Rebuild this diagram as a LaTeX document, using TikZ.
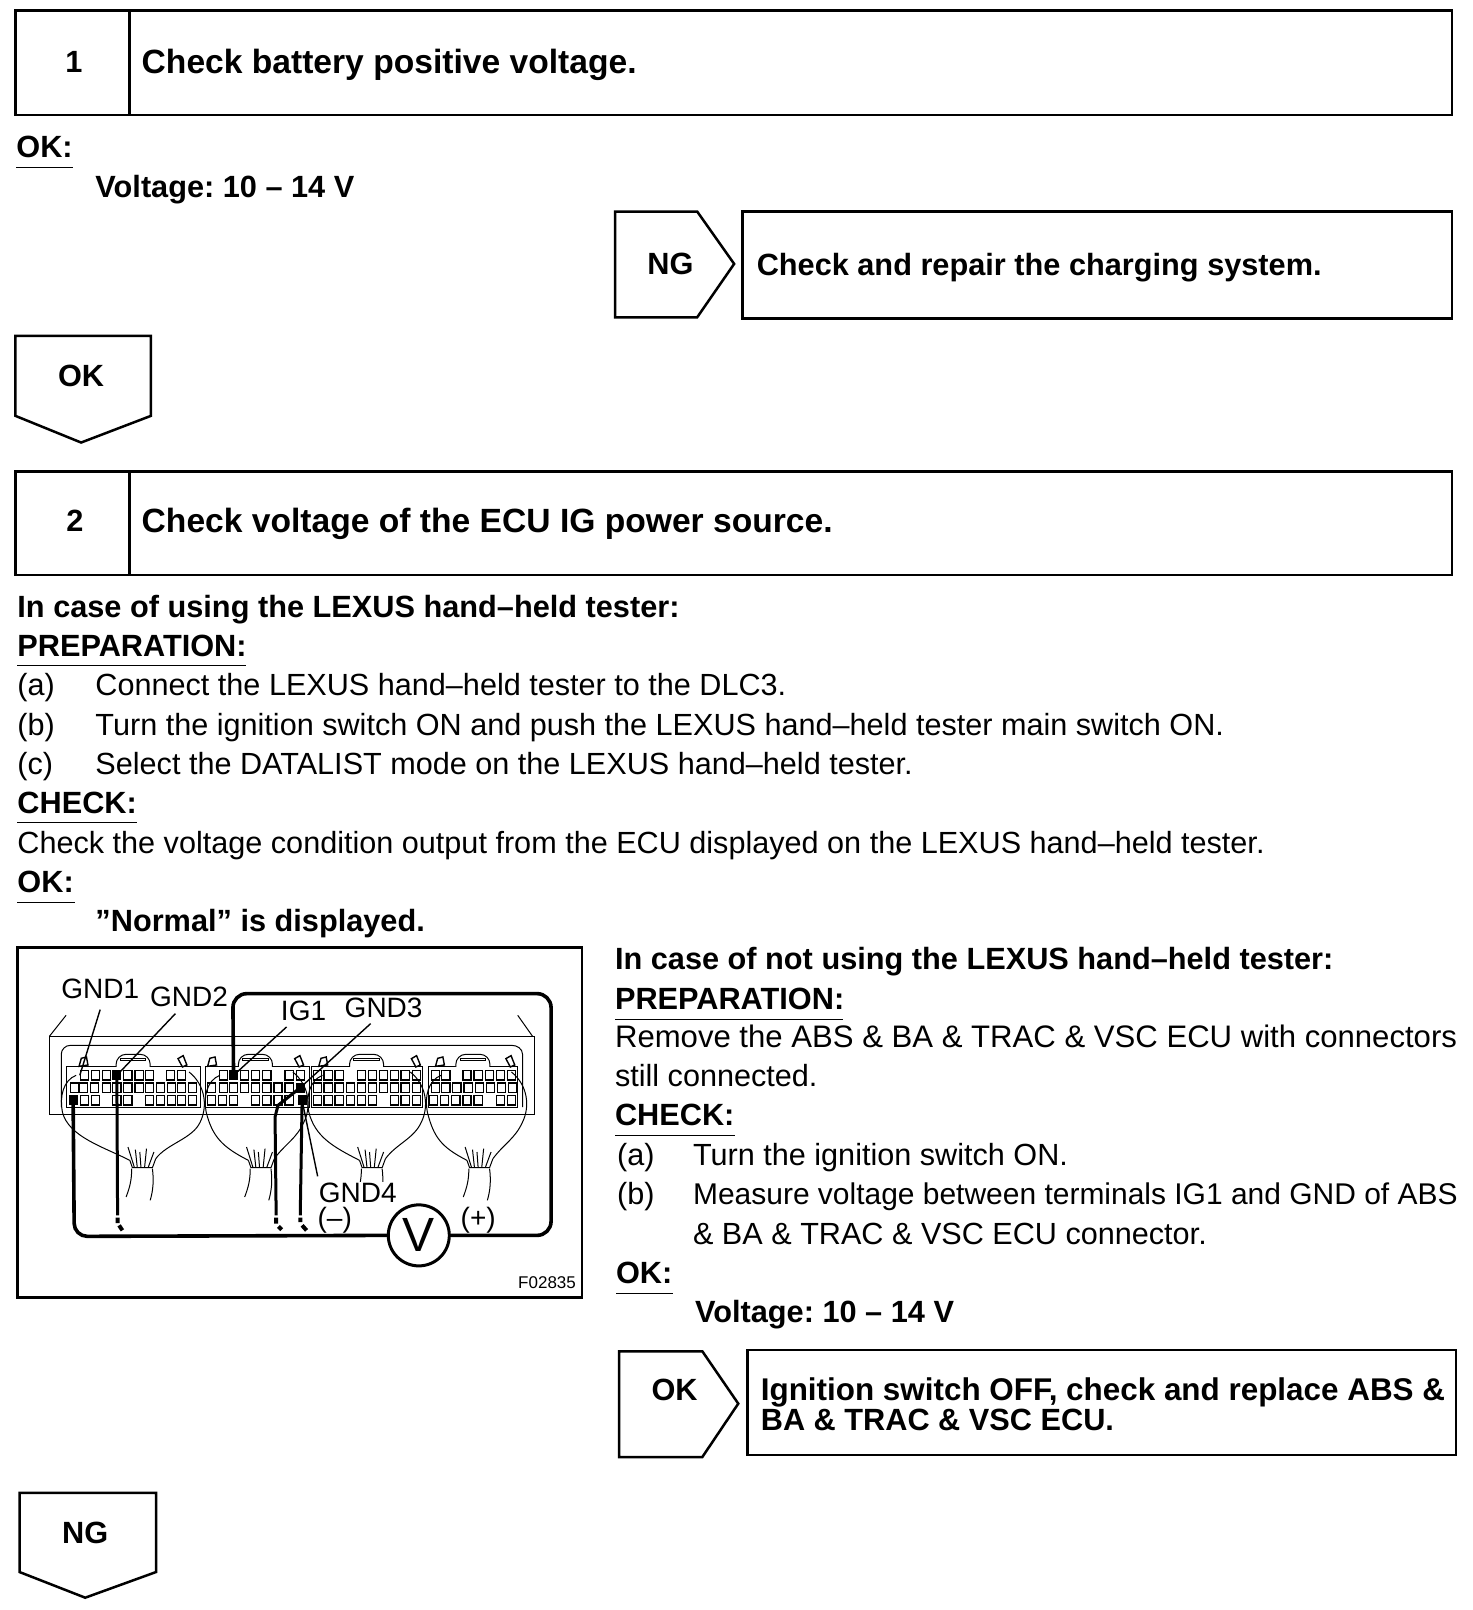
\documentclass[tikz,border=0pt]{standalone}
\usepackage{fontspec}
\setmainfont{Liberation Sans}
\tikzset{
 x=0.51325pt,y=-0.51325pt,
 box/.style={draw=black,line width=1.25pt,fill=white},
 rule/.style={draw=black,line width=0.6pt},
 bt/.style={anchor=base west,inner sep=0pt,outer sep=0pt,font=\fontsize{15.35}{17}\selectfont\bfseries\frenchspacing},
 tt/.style={anchor=base west,inner sep=0pt,outer sep=0pt,font=\fontsize{16.8}{19}\selectfont\bfseries\frenchspacing},
 nt/.style={anchor=base west,inner sep=0pt,outer sep=0pt,font=\fontsize{15.3}{17}\selectfont\frenchspacing},
 ct/.style={inner sep=0pt,outer sep=0pt,font=\fontsize{15.35}{17}\selectfont\bfseries},
 fl/.style={anchor=base west,inner sep=0pt,outer sep=0pt,font=\fontsize{14}{16}\selectfont},
 thin1/.style={draw=black,line width=0.5pt},
 lead/.style={draw=black,line width=0.7pt},
 wire/.style={draw=black,line width=1.8pt},
 probe/.style={draw=black,line width=1.5pt},
 pin/.style={draw=black,line width=0.6pt,fill=white},
}
\begin{document}
\begin{tikzpicture}
\useasboundingbox (0,0) rectangle (1434,1568);
\fill[white] (0,0) rectangle (1434,1568);
% step boxes
\draw[box] (15,10) rectangle (1414,112); \draw[box] (126,10) -- (126,112);
\node[ct] (n1) at (72,60) {1};
\node[tt] (t1) at (138,72) {Check battery positive voltage.};
\node[bt] (ok1) at (16,153) {OK:}; \draw[rule] (16,163) -- (71,163);
\node[bt] (v1) at (93,192) {Voltage: 10 -- 14 V};
\draw[box] (599,206) -- (679,206) -- (715,257) -- (679,309) -- (599,309) -- cycle;
\node[ct] (ng1) at (653,257) {NG};
\draw[box] (723,206) rectangle (1414,310);
\node[bt] (t2) at (737,268) {Check and repair the charging system.};
\draw[box] (15,327) -- (147,327) -- (147,405) -- (79,431) -- (15,405) -- cycle;
\node[ct] (ok2) at (79,366) {OK};
\draw[box] (15,459) rectangle (1414,560); \draw[box] (126,459) -- (126,560);
\node[ct] (n2) at (73,507) {2};
\node[tt] (t3) at (138,519) {Check voltage of the ECU IG power source.};
\node[bt] (a1) at (17,601) {In case of using the LEXUS hand--held tester:};
\node[bt] (a2) at (17,639) {PREPARATION:}; \draw[rule] (17,648) -- (240,648);
\node[nt] (a3l) at (17,677) {(a)}; \node[nt] (a3) at (93,677) {Connect the LEXUS hand--held tester to the DLC3.};
\node[nt] (a4l) at (17,716) {(b)}; \node[nt] (a4) at (93,716) {Turn the ignition switch ON and push the LEXUS hand--held tester main switch ON.};
\node[nt] (a5l) at (17,754) {(c)}; \node[nt] (a5) at (93,754) {Select the DATALIST mode on the LEXUS hand--held tester.};
\node[bt] (a6) at (17,792) {CHECK:}; \draw[rule] (17,801) -- (133,801);
\node[nt] (a7) at (17,831) {Check the voltage condition output from the ECU displayed on the LEXUS hand--held tester.};
\node[bt] (a8) at (17,869) {OK:}; \draw[rule] (17,879) -- (73,879);
\node[bt] (a9) at (93,907) {”Normal” is displayed.};
% right column
\node[bt] (b1) at (599,944) {In case of not using the LEXUS hand--held tester:};
\node[bt] (b2) at (599,983) {PREPARATION:}; \draw[rule] (599,993) -- (821,993);
\node[nt,font=\fontsize{15.55}{17}\selectfont\frenchspacing] (b3) at (599,1020) {Remove the ABS \& BA \& TRAC \& VSC ECU with connectors};
\node[nt] (b4) at (599,1058) {still connected.};
\node[bt] (b5) at (599,1096) {CHECK:}; \draw[rule] (599,1106) -- (716,1106);
\node[nt] (b6l) at (601,1135) {(a)}; \node[nt] (b6) at (675,1135) {Turn the ignition switch ON.};
\node[nt] (b7l) at (601,1173) {(b)}; \node[nt,font=\fontsize{14.98}{17}\selectfont\frenchspacing] (b7) at (675,1173) {Measure voltage between terminals IG1 and GND of ABS};
\node[nt] (b8) at (675,1212) {\& BA \& TRAC \& VSC ECU connector.};
\node[bt] (b9) at (600,1250) {OK:}; \draw[rule] (600,1260) -- (655,1260);
\node[bt] (b10) at (677,1288) {Voltage: 10 -- 14 V};
\draw[box] (603,1316) -- (684,1316) -- (719,1367) -- (684,1419) -- (603,1419) -- cycle;
\node[ct] (ok3) at (657,1354) {OK};
\draw[box] (728,1315) rectangle (1418,1417);
\node[bt,font=\fontsize{15.7}{17}\selectfont\bfseries\frenchspacing] (c1) at (741,1364) {Ignition switch OFF, check and replace ABS \&};
\node[bt] (c2) at (741,1393) {BA \& TRAC \& VSC ECU.};
\draw[box] (19,1454) -- (152,1454) -- (152,1531) -- (83,1556) -- (19,1531) -- cycle;
\node[ct] (ng2) at (83,1493) {NG};
% figure, in zoom-crop coordinates
\begin{scope}[shift={(9.16,906)},x=0.18519pt,y=-0.16667pt]
\draw[box] (22,52) rectangle (1545,1102);
% ECU body
\draw[thin1] (108,318) -- (153,255) (1412,318) -- (1372,255);
\draw[thin1,fill=white] (108,318) rectangle (1416,553);
\draw[thin1] (140,530) -- (140,372) to[out=90,in=180] (165,345) -- (1355,345) to[out=0,in=90] (1385,372) -- (1385,530);
% connector shells
\foreach \a/\b/\l/\ta/\tb in {155/515/288/198/465, 530/810/618/545/780, 815/1115/918/845/1095, 1130/1372/1205/1160/1350}{
  \draw[thin1,fill=white] (\a,410) -- (\a,532) -- (\b,532) -- (\b,410) -- cycle;
  \draw[thin1,fill=white,rounded corners=5pt] (\l,410) -- (\l,372) -- (\l+92,372) -- (\l+92,410);
  \draw[thin1] (\l+12,384) -- (\l+80,384) -- (\l+80,392) -- (\l+12,392) -- cycle;
  \draw[line width=0.7pt,fill=white] (\ta-10,408) -- (\ta-4,384) -- (\ta+10,380) -- (\ta+14,404) -- cycle;
  \draw[line width=0.7pt,fill=white] (\tb-10,385) -- (\tb+4,376) -- (\tb+14,404) -- (\tb+2,410) -- cycle;
}
% pins
\foreach \y/\xs in {
 435/{203,232,262,320,350,378,435,465,578,635,665,695,755,785,832,860,890,950,980,1010,1040,1068,1098,1150,1178,1235,1265,1295,1325,1355},
 472/{175,200,230,262,290,320,350,378,408,438,465,495,545,578,605,635,665,695,725,755,832,860,890,920,950,980,1010,1040,1068,1098,1150,1178,1208,1238,1268,1298,1328,1358},
 510/{202,232,290,320,378,408,438,465,495,545,575,605,665,695,725,755,832,860,890,920,950,980,1040,1068,1098,1145,1175,1205,1235,1265,1325,1355}}{
  \foreach \x in \xs { \draw[pin] (\x-11,\y-14) rectangle (\x+11,\y+14); }
}
\foreach \x/\y in {172/510,290/435,605/435,785/472,790/510}{ \fill[black] (\x-12,\y-15) rectangle (\x+12,\y+15); }
% harnesses
\foreach \L/\R/\B in {140/525/325, 528/805/645, 805/1122/945, 1125/1395/1235}{
  \draw[thin1] (\L+40,435) .. controls (\L+5,450) and (\L-5,500) .. (\L+3,545) .. controls (\L+20,620) and (\B-70,650) .. (\B,690);
  \draw[thin1] (\R-40,425) .. controls (\R+5,465) and (\R+10,530) .. (\R-10,575) .. controls (\R-30,625) and (\B+100,640) .. (\B+70,685);
  \draw[thin1] (\B,690) -- (\B+7,712) -- (\B+61,712) -- (\B+70,685);
  \draw[thin1] (\B+5,715) .. controls (\B+5,750) and (\B,770) .. (\B-10,800);
  \draw[thin1] (\B+61,715) .. controls (\B+65,750) and (\B+63,780) .. (\B+55,810);
  \draw[thin1] (\B+12,710) -- (\B-5,650) (\B+20,710) -- (\B+15,658) (\B+30,710) -- (\B+27,665) (\B+40,710) -- (\B+45,655) (\B+50,710) -- (\B+65,665);
}
% main circuit
\node[draw=black,line width=1.5pt,circle,minimum size=30.5pt,inner sep=0pt,fill=white,font=\fontsize{24}{26}\selectfont] (vm) at (1105,915) {V};
\coordinate (pinA) at (172,510);
\coordinate (pinB) at (605,435);
\draw[wire,rounded corners=6.5pt] (pinA) -- (175,918) -- (vm.west);
\draw[wire,rounded corners=7pt] (vm.east) -- (1462,915) -- (1462,190) -- (603,190) -- (pinB);
% probes
\coordinate (p1) at (290,435); \coordinate (p2) at (785,472); \coordinate (p3) at (790,510);
\draw[probe] (p1) -- (292,855); \draw[probe,line width=2pt] (292,862) -- (292,878) (296,885) -- (305,900);
\draw[probe] (p2) -- (725,525) -- (717,560) -- (720,855); \draw[probe,line width=2pt] (720,862) -- (720,880) (726,888) -- (735,898);
\draw[probe] (p3) -- (785,855); \draw[probe,line width=2pt] (785,862) -- (785,875) (790,885) -- (802,900);
% leaders
\coordinate (g1) at (245,238); \coordinate (g2) at (448,250); \coordinate (g3) at (748,290); \coordinate (g4) at (975,280); \coordinate (g5) at (832,738);
\draw[lead] (g1) -- (190,435);
\draw[lead] (g2) -- (p1);
\draw[lead] (g3) -- (pinB);
\draw[lead] (g4) -- (p2);
\draw[lead] (g5) -- (p3);
% labels
\node[fl] (l1) at (140,205) {GND1};
\node[fl] (l2) at (380,228) {GND2};
\node[fl] (l3) at (733,270) {IG1};
\node[fl] (l4) at (905,262) {GND3};
\node[fl,fill=white] (l5) at (835,815) {GND4};
\node[fl] (l6) at (832,892) {(--)};
\node[fl] (l7) at (1218,892) {(+)};
\node[anchor=base east,inner sep=0pt,font=\fontsize{8.5}{10}\selectfont] (l8) at (1530,1073) {F02835};
\end{scope}
\end{tikzpicture}
\end{document}
